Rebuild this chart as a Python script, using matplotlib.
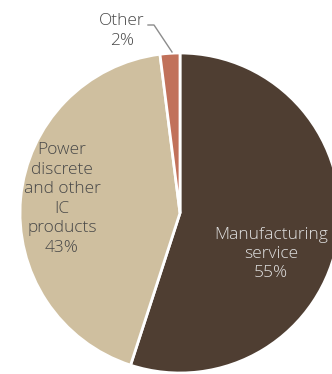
import matplotlib
matplotlib.use("Agg")
import matplotlib.pyplot as plt

plt.rcParams['font.family'] = ['Open Sans', 'DejaVu Sans']

categories = ["Manufacturing\nservice", "Power\ndiscrete\nand other\nIC\nproducts", "Other"]
shares = [55, 43, 2]
colors = ["#4f3e32", "#cfbf9f", "#c1715a"]
label_colors = ["#e0e0e0", "#484848", "#484848"]

W, H = 332, 374
fig = plt.figure(figsize=(W / 100, H / 100), dpi=100)
ax = fig.add_axes([0, 0, 1, 1])

cx, cy, r = 180, 161, 160
wedges, _ = ax.pie(shares, colors=colors, startangle=90, counterclock=False,
                   center=(cx, cy), radius=r, frame=True,
                   wedgeprops=dict(edgecolor="white", linewidth=2))
ax.set_xlim(0, W)
ax.set_ylim(0, H)
ax.axis("off")

fs = 12.5
wt = "light"
# Manufacturing service label inside its slice
ax.text(271, H - 254, f"{categories[0]}\n{shares[0]}%", ha="center", va="center",
        color=label_colors[0], fontsize=fs, linespacing=1.27, fontweight=wt)
# Power discrete label inside its slice
ax.text(62, H - 199, f"{categories[1]}\n{shares[1]}%", ha="center", va="center",
        color=label_colors[1], fontsize=fs, linespacing=1.3, fontweight=wt)
# Other label with leader line
ax.text(122, H - 31, f"{categories[2]}\n{shares[2]}%", ha="center", va="center",
        color=label_colors[2], fontsize=fs, linespacing=1.28, fontweight=wt)
ax.plot([148, 154, 172], [H - 25, H - 25, H - 52], color="#8c8c8c", lw=1)

fig.savefig("out.png", dpi=100)
